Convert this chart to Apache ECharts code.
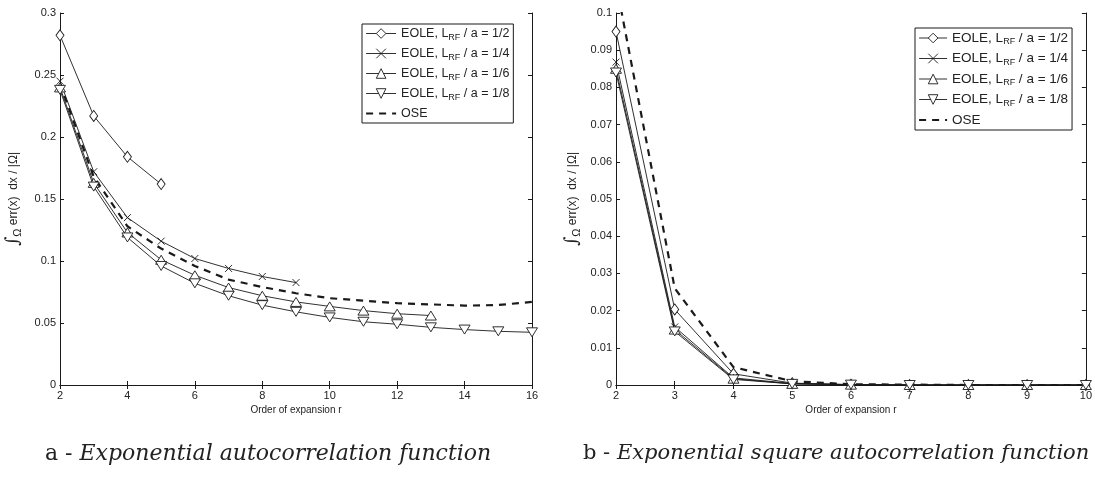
<!DOCTYPE html>
<html>
<head>
<meta charset="utf-8">
<script src="https://cdn.jsdelivr.net/npm/echarts@6/dist/echarts.min.js"></script>
<style>
  html, body { margin: 0; padding: 0; background: #fff; }
  #chart { width: 1095px; height: 482px; }
</style>
</head>
<body>
<div id="chart"></div>
<script>
// Order of expansion r
const rA = [2, 3, 4, 5, 6, 7, 8, 9, 10, 11, 12, 13, 14, 15, 16];
const rB = [2, 3, 4, 5, 6, 7, 8, 9, 10];

// (a) exponential autocorrelation: mean error per method
const aEole2 = [0.282, 0.217, 0.184, 0.162];
const aEole4 = [0.245, 0.172, 0.135, 0.116, 0.102, 0.094, 0.0875, 0.0826];
const aEole6 = [0.240, 0.163, 0.123, 0.101, 0.0885, 0.0786, 0.072, 0.067, 0.0634, 0.060, 0.0575, 0.056];
const aEole8 = [0.238, 0.160, 0.119, 0.096, 0.082, 0.072, 0.0644, 0.059, 0.0545, 0.051, 0.049, 0.0465, 0.0447, 0.0433, 0.0425];
const aOse   = [0.243, 0.168, 0.128, 0.110, 0.096, 0.085, 0.079, 0.074, 0.070, 0.068, 0.066, 0.065, 0.064, 0.0645, 0.067];

// (b) exponential square autocorrelation
const bEole2 = [0.095, 0.0203, 0.003, 0.0005, 0.0001, 0, 0, 0, 0];
const bEole4 = [0.0868, 0.0156, 0.0019, 0.0004, 0.0001, 0, 0, 0, 0];
const bEole6 = [0.085, 0.0149, 0.0017, 0.0003, 0.0001, 0, 0, 0, 0];
const bEole8 = [0.084, 0.0144, 0.0015, 0.0003, 0.0001, 0, 0, 0, 0];
const bOse   = [0.108, 0.026, 0.0048, 0.001, 0.0002, 0.0001, 0, 0, 0];

const names = [
  'EOLE, L_RF / a = 1/2',
  'EOLE, L_RF / a = 1/4',
  'EOLE, L_RF / a = 1/6',
  'EOLE, L_RF / a = 1/8',
  'OSE'
];

const captionA = 'Exponential autocorrelation function';
const captionB = 'Exponential square autocorrelation function';
const xName = 'Order of expansion r';

const chart = echarts.init(document.getElementById('chart'), null, { renderer: 'canvas' });

const ink = '#1a1a1a';
const clear = 'rgba(0,0,0,0)';
const sans = 'Liberation Sans, Arial, sans-serif';
const labelFont = { color: '#222', fontFamily: sans, fontSize: 11 };

// hollow outline markers: diamond, cross, up triangle, down triangle
const markers = [
  { symbol: 'path://M5,0L10,7L5,14L0,7Z', symbolSize: [8, 11] },
  { symbol: 'path://M0,0L10,10M10,0L0,10', symbolSize: 7 },
  { symbol: 'path://M5,0L10,9L0,9Z', symbolSize: [11, 9] },
  { symbol: 'path://M0,0L10,0L5,9Z', symbolSize: [11, 9] }
];

function pairs(xs, ys) {
  return ys.map((v, i) => [xs[i], v]);
}

function makeSeries(xIdx, yIdx, xs, sets) {
  return sets.map((ys, i) => {
    const isOse = i === 4;
    const s = {
      name: names[i],
      type: 'line',
      xAxisIndex: xIdx,
      yAxisIndex: yIdx,
      data: pairs(xs, ys),
      animation: false,
      silent: true,
      clip: true,
      lineStyle: isOse ? { color: ink, width: 2.2, type: [7, 6] } : { color: ink, width: 0.9 },
      z: isOse ? 3 : 4
    };
    if (isOse) {
      // dashed curve only, no markers (also keeps its legend icon marker-free)
      s.symbol = 'none';
      s.itemStyle = { color: clear, borderColor: clear, borderWidth: 0 };
    } else {
      Object.assign(s, markers[i]);
      s.itemStyle = { color: '#fff', borderColor: ink, borderWidth: 0.9 };
      s.showAllSymbol = true;
    }
    return s;
  });
}

function xAxisPair(grid, max, interval) {
  return [
    {
      type: 'value', gridIndex: grid, min: 2, max: max, interval: interval, position: 'bottom',
      name: xName, nameLocation: 'middle', nameGap: 20, nameMoveOverlap: false,
      nameTextStyle: { color: '#222', fontFamily: sans, fontSize: 10 },
      axisLine: { lineStyle: { color: ink, width: 1 } },
      axisTick: { inside: true, length: 4, lineStyle: { color: ink } },
      axisLabel: Object.assign({ margin: 5 }, labelFont),
      splitLine: { show: false }
    },
    {
      type: 'value', gridIndex: grid, min: 2, max: max, interval: interval, position: 'top',
      axisLine: { lineStyle: { color: ink, width: 1 } },
      axisTick: { inside: true, length: 4, lineStyle: { color: ink } },
      axisLabel: { show: false },
      splitLine: { show: false }
    }
  ];
}

function yAxisPair(grid, max, interval, gap, fmt) {
  return [
    {
      type: 'value', gridIndex: grid, min: 0, max: max, interval: interval, position: 'left',
      name: '{i|∫}{o|Ω} err(x)  dx / |Ω|',
      nameLocation: 'middle', nameGap: gap, nameRotate: 90, nameMoveOverlap: false,
      nameTextStyle: {
        color: '#222', fontFamily: sans, fontSize: 12,
        rich: {
          i: { fontSize: 18, fontFamily: 'DejaVu Serif, serif', color: '#222', padding: [0, 0, 2, 0] },
          o: { fontSize: 11, color: '#222', padding: [0, 0, -7, 0] }
        }
      },
      axisLine: { lineStyle: { color: ink, width: 1 } },
      axisTick: { inside: true, length: 4, lineStyle: { color: ink } },
      axisLabel: Object.assign({ margin: 4, formatter: fmt }, labelFont),
      splitLine: { show: false }
    },
    {
      type: 'value', gridIndex: grid, min: 0, max: max, interval: interval, position: 'right',
      axisLine: { lineStyle: { color: ink, width: 1 } },
      axisTick: { inside: true, length: 4, lineStyle: { color: ink } },
      axisLabel: { show: false },
      splitLine: { show: false }
    }
  ];
}

const fmt = v => (v === 0 ? '0' : String(+v.toFixed(2)));

function legendAt(pos, fontSize, iconWidth) {
  return Object.assign({
    orient: 'vertical',
    data: names,
    backgroundColor: '#fff',
    borderColor: ink, borderWidth: 1, borderRadius: 0,
    padding: [3, 4, 3, 3],
    itemGap: 5, itemWidth: iconWidth, itemHeight: 12,
    selectedMode: false,
    lineStyle: { width: 'inherit' },
    itemStyle: { borderWidth: 'inherit' },
    formatter: n => n.replace('L_RF', 'L{s|RF}'),
    textStyle: {
      color: '#222', fontFamily: sans, fontSize: fontSize,
      rich: { s: { fontSize: 9, color: '#222', padding: [8, 0, 0, 0] } }
    }
  }, pos);
}

function caption(left, prefix, text, size) {
  return {
    type: 'text', left: left, top: 443,
    style: {
      text: '{u|' + prefix + ' - }{t|' + text + '}',
      rich: {
        u: { fontFamily: 'DejaVu Serif, serif', fontSize: size, fill: '#222' },
        t: { fontFamily: 'DejaVu Serif, serif', fontStyle: 'italic', fontSize: size, fill: '#222' }
      }
    }
  };
}

const option = {
  backgroundColor: '#fff',
  animation: false,
  grid: [
    { left: 60, right: 1095 - 532, top: 13, bottom: 482 - 385, containLabel: false },
    { left: 616, right: 1095 - 1091, top: 13, bottom: 482 - 385, containLabel: false }
  ],
  xAxis: [].concat(xAxisPair(0, 16, 2), xAxisPair(1, 10, 1)),
  yAxis: [].concat(yAxisPair(0, 0.3, 0.05, 36, fmt), yAxisPair(1, 0.1, 0.01, 33, fmt)),
  legend: [
    legendAt({ left: 362, top: 24 }, 12.5, 30),
    legendAt({ left: 915, top: 28 }, 13.5, 28)
  ],
  series: [].concat(
    makeSeries(0, 0, rA, [aEole2, aEole4, aEole6, aEole8, aOse]),
    makeSeries(2, 2, rB, [bEole2, bEole4, bEole6, bEole8, bOse])
  ),
  graphic: [
    caption(45, 'a', captionA, 22),
    caption(583, 'b', captionB, 21)
  ]
};

chart.setOption(option);
</script>
</body>
</html>
